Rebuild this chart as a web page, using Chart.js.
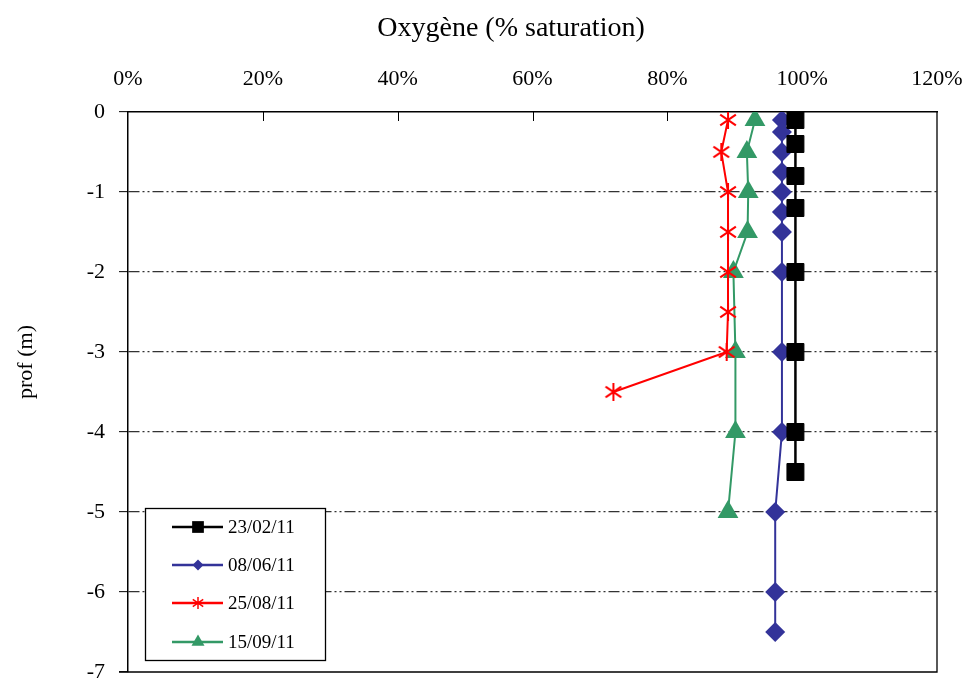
<!DOCTYPE html>
<html>
<head>
<meta charset="utf-8">
<script src="https://cdn.jsdelivr.net/npm/chart.js@4"></script>
<style>
	html, body { margin: 0; padding: 0; background: #fff; overflow: hidden; }
	canvas { display: block; }
</style>
</head>
<body>
<canvas id="oxygene" width="973" height="680"></canvas>
<script>
// profondeur (m) et oxygene (% saturation) par campagne
const dates = ['23/02/11', '08/06/11', '25/08/11', '15/09/11'];
const depthFeb = [-0.1, -0.4, -0.8, -1.2, -2, -3, -4, -4.5];
const oxyFeb = [99, 99, 99, 99, 99, 99, 99, 99];
const depthJun = [-0.1, -0.25, -0.5, -0.75, -1, -1.25, -1.5, -2, -3, -4, -5, -6, -6.5];
const oxyJun = [97, 97, 97, 97, 97, 97, 97, 97, 97, 97, 96, 96, 96];
const depthAug = [-0.1, -0.5, -1, -1.5, -2, -2.5, -3, -3.5];
const oxyAug = [89, 88, 89, 89, 89, 89, 88.8, 72];
const depthSep = [-0.1, -0.5, -1, -1.5, -2, -3, -4, -5];
const oxySep = [93, 91.8, 92, 91.9, 89.8, 90.1, 90.1, 89];
const xTicks = [0, 20, 40, 60, 80, 100, 120];
const yTicks = [0, -1, -2, -3, -4, -5, -6, -7];

const serif = '"Liberation Serif", "Times New Roman", serif';

function pts(xs, ys) {
	let out = [];
	for (let i = 0; i < xs.length; i++) {
		out.push({ x: xs[i], y: ys[i] });
	}
	return out;
}

// asterisque facon Excel (X + trait vertical)
function starCanvas(size, lw) {
	var c = document.createElement('canvas');
	c.width = size; c.height = size;
	var g = c.getContext('2d');
	var h = size / 2, a = h - 1;
	g.strokeStyle = '#ff0000';
	g.lineWidth = lw;
	g.beginPath();
	g.moveTo(h - a * 0.87, h - a * 0.6); g.lineTo(h + a * 0.87, h + a * 0.6);
	g.moveTo(h - a * 0.87, h + a * 0.6); g.lineTo(h + a * 0.87, h - a * 0.6);
	g.moveTo(h, h - a); g.lineTo(h, h + a);
	g.stroke();
	return c;
}
var bigStar = starCanvas(20, 2);
var smallStar = starCanvas(14, 1.5);

var legendMarks = [
	{ style: 'rect', radius: 8.3 },
	{ style: 'rectRot', radius: 5.5 },
	{ style: smallStar, radius: 6 },
	{ style: 'triangle', radius: 7.5 }
];

var cadre = {
	id: 'cadre',
	afterDraw: function (chart) {
		var ctx = chart.ctx;
		var a = chart.chartArea;
		var xs = chart.scales.x;
		ctx.save();
		// bords droit et bas
		ctx.strokeStyle = '#000';
		ctx.lineWidth = 1.3;
		ctx.beginPath();
		ctx.moveTo(a.right, a.top);
		ctx.lineTo(a.right, a.bottom);
		ctx.lineTo(a.left - 9, a.bottom);
		ctx.stroke();
		// graduations x vers l'interieur
		ctx.lineWidth = 1;
		ctx.beginPath();
		for (let i = 1; i < xTicks.length - 1; i++) {
			var px = Math.round(xs.getPixelForValue(xTicks[i])) + 0.5;
			ctx.moveTo(px, a.top);
			ctx.lineTo(px, a.top + 9);
		}
		ctx.stroke();
		// titres
		ctx.fillStyle = '#000';
		ctx.textAlign = 'center';
		ctx.textBaseline = 'middle';
		ctx.font = '28px ' + serif;
		ctx.fillText('Oxygène (% saturation)', 511, 29);
		ctx.save();
		ctx.translate(26, 362);
		ctx.rotate(-Math.PI / 2);
		ctx.font = '22px ' + serif;
		ctx.fillText('prof (m)', 0, 0);
		ctx.restore();
		// legende
		ctx.fillStyle = '#fff';
		ctx.fillRect(145.5, 508.5, 180, 152);
		ctx.strokeStyle = '#000';
		ctx.lineWidth = 1.3;
		ctx.strokeRect(145.5, 508.5, 180, 152);
		var rows = [527, 565, 603, 642];
		ctx.font = '19px ' + serif;
		ctx.textAlign = 'left';
		for (let i = 0; i < chart.data.datasets.length; i++) {
			var ds = chart.data.datasets[i];
			var y = rows[i];
			ctx.strokeStyle = ds.borderColor;
			ctx.lineWidth = 2.5;
			ctx.beginPath();
			ctx.moveTo(172, y);
			ctx.lineTo(223, y);
			ctx.stroke();
			ctx.fillStyle = ds.pointBackgroundColor;
			ctx.strokeStyle = ds.pointBorderColor;
			Chart.helpers.drawPoint(ctx, {
				pointStyle: legendMarks[i].style,
				radius: legendMarks[i].radius,
				rotation: 0,
				borderWidth: 0
			}, 198, y);
			ctx.fillStyle = '#000';
			ctx.fillText(ds.label, 228, y + 1);
		}
		ctx.restore();
	}
};

new Chart(document.getElementById('oxygene'), {
	type: 'scatter',
	data: {
		datasets: [{
			label: dates[0],
			data: pts(oxyFeb, depthFeb),
			showLine: true,
			borderColor: '#000000',
			borderWidth: 2.5,
			pointStyle: 'rect',
			pointRadius: 12,
			pointBackgroundColor: '#000000',
			pointBorderColor: '#000000',
			pointBorderWidth: 1
		}, {
			label: dates[1],
			data: pts(oxyJun, depthJun),
			showLine: true,
			borderColor: '#333399',
			borderWidth: 2,
			pointStyle: 'rectRot',
			pointRadius: 10,
			pointBackgroundColor: '#333399',
			pointBorderColor: '#333399',
			pointBorderWidth: 0
		}, {
			label: dates[2],
			data: pts(oxyAug, depthAug),
			showLine: true,
			borderColor: '#ff0000',
			borderWidth: 2,
			pointStyle: bigStar,
			pointRadius: 9,
			pointBackgroundColor: '#ff0000',
			pointBorderColor: '#ff0000'
		}, {
			label: dates[3],
			data: pts(oxySep, depthSep),
			showLine: true,
			borderColor: '#339966',
			borderWidth: 2,
			pointStyle: 'triangle',
			pointRadius: 12,
			pointBackgroundColor: '#339966',
			pointBorderColor: '#339966',
			pointBorderWidth: 0
		}]
	},
	options: {
		responsive: false,
		animation: false,
		layout: { autoPadding: false, padding: { top: 0, left: 0, right: 36, bottom: 8 } },
		plugins: {
			legend: { display: false },
			tooltip: { enabled: false }
		},
		scales: {
			x: {
				type: 'linear',
				position: 'top',
				min: 0,
				max: 120,
				afterBuildTicks: function (scale) {
					scale.ticks = xTicks.map(function (v) { return { value: v }; });
				},
				afterFit: function (scale) {
					scale.height = 112;
					scale.paddingLeft = 0;
					scale.paddingRight = 0;
				},
				ticks: {
					color: '#000',
					padding: 20,
					font: { family: serif, size: 22 },
					callback: function (v) { return v + '%'; }
				},
				grid: { drawOnChartArea: false, drawTicks: false },
				border: { color: '#000', width: 1.5 }
			},
			y: {
				type: 'linear',
				min: -7,
				max: 0,
				afterBuildTicks: function (scale) {
					scale.ticks = yTicks.map(function (v) { return { value: v }; });
				},
				afterFit: function (scale) {
					scale.width = 128;
					scale.paddingTop = 0;
					scale.paddingBottom = 0;
				},
				ticks: {
					color: '#000',
					padding: 14,
					font: { family: serif, size: 22 }
				},
				grid: {
					color: function (c) {
						if (!c.tick || c.tick.value === 0 || c.tick.value === -7) return 'rgba(0,0,0,0)';
						return '#333333';
					},
					lineWidth: 1.3,
					tickColor: '#000',
					tickLength: 9,
					tickWidth: 1
				},
				border: { color: '#000', width: 1.5, dash: [11, 3, 2, 3, 2, 3] }
			}
		}
	},
	plugins: [cadre]
});
</script>
</body>
</html>
